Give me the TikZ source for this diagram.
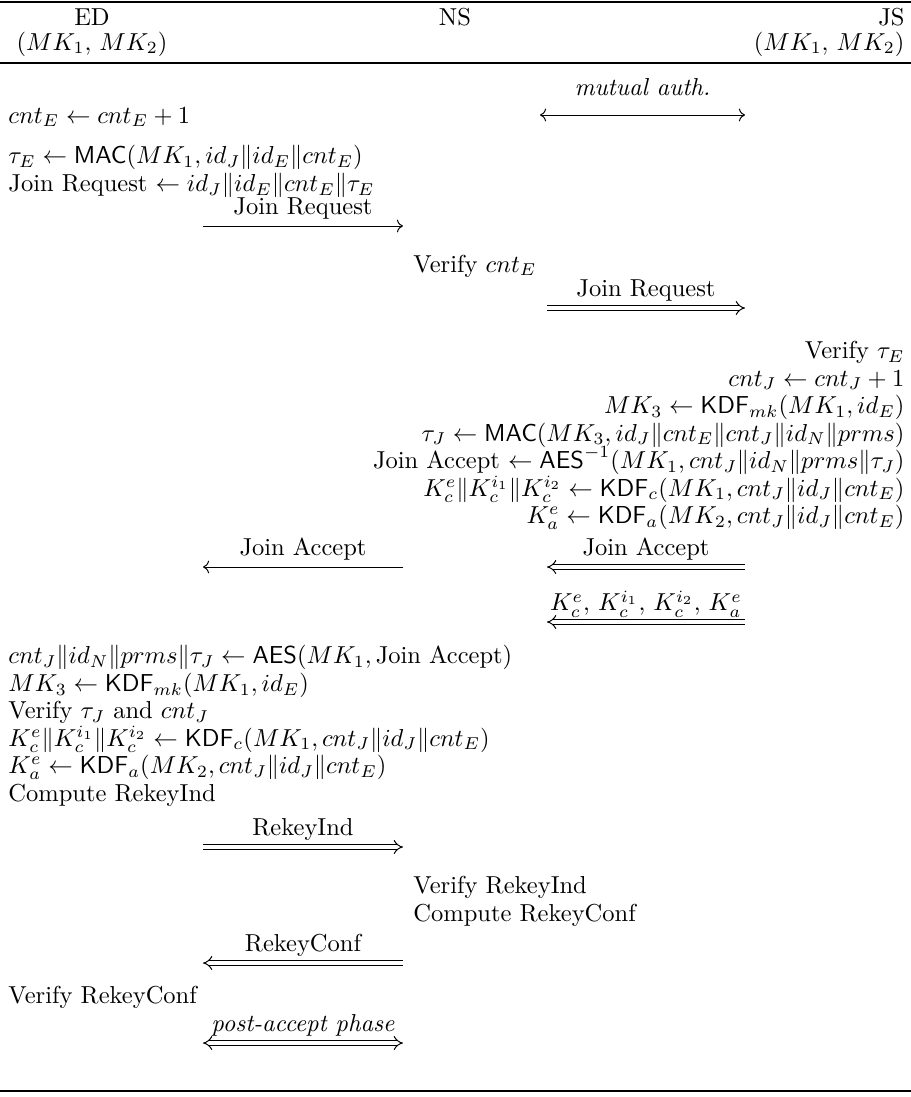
\documentclass[tikz,border=0pt]{standalone}
\usepackage{amsmath}
\usetikzlibrary{positioning}
\usetikzlibrary{arrows.meta}
\newcommand\protofont{\fontsize{10pt}{11.2pt}\selectfont\lineskiplimit=-10pt\lineskip=0pt\relax}

\begin{document}
\begin{tikzpicture}[x=0.408pt,y=-0.408pt,
  every node/.style={inner sep=0pt,font=\protofont},
  msg/.style={-{Computer Modern Rightarrow}},
  msgboth/.style={{Computer Modern Rightarrow}-{Computer Modern Rightarrow}},
  dmsg/.style={double,double distance=1.6pt,-{Implies}},
  dmsgboth/.style={double,double distance=1.6pt,{Implies}-{Implies}},
  lbl/.style={anchor=base,yshift=4.5pt}]
\useasboundingbox (0,0) rectangle (911,1097);
% header
\draw[line width=0.7pt] (0,2) -- (911,2);
\node (ed) [anchor=base] at (92,25) {ED};
\node (ns) [anchor=base] at (455,25) {NS};
\node (js) [anchor=base east] at (905,25) {JS};
\node (edkeys) [anchor=base] at (92,50) {$(MK_1,\, MK_2)$};
\node (jskeys) [anchor=base east] at (905,50) {$(MK_1,\, MK_2)$};
\draw[line width=0.7pt] (0,63) -- (911,63);
% join request
\node (edcnt) [anchor=base west] at (8,123) {$cnt_E \leftarrow cnt_E + 1$};
\coordinate (maa) at (540,115);
\coordinate (mab) at (745,115);
\draw[msgboth] (maa) -- node[lbl,yshift=3.5pt] (ma) {\textit{mutual auth.}} (mab);
\node (edreq) [anchor=north west,align=left] at (8,145) {$\tau_E \leftarrow \mathsf{MAC}(MK_1, id_J \| id_E \| cnt_E)$\\
  Join Request $\leftarrow id_J \| id_E \| cnt_E \| \tau_E$};
\coordinate (jr1a) at (203,226);
\coordinate (jr1b) at (403,226);
\draw[msg] (jr1a) -- node[lbl] (jr1) {Join Request} (jr1b);
\node (nsver) [anchor=base west] at (413,272) {Verify $cnt_E$};
\coordinate (jr2a) at (547,308);
\coordinate (jr2b) at (745,308);
\draw[dmsg] (jr2a) -- node[lbl] (jr2) {Join Request} (jr2b);
% join server
\node (jsblock) [anchor=north east,align=right] at (905,341) {Verify $\tau_E$\\
  $cnt_J \leftarrow cnt_J + 1$\\
  $MK_3 \leftarrow \mathsf{KDF}_{mk}(MK_1, id_E)$\\
  $\tau_J \leftarrow \mathsf{MAC}(MK_3, id_J \| cnt_E \| cnt_J \| id_N \| prms)$\\
  Join Accept $\leftarrow \mathsf{AES}^{-1}(MK_1, cnt_J \| id_N \| prms \| \tau_J)$\\
  $K_c^e \| K_c^{i_1} \| K_c^{i_2} \leftarrow \mathsf{KDF}_c(MK_1, cnt_J \| id_J \| cnt_E)$\\
  $K_a^e \leftarrow \mathsf{KDF}_a(MK_2, cnt_J \| id_J \| cnt_E)$};
% join accept
\coordinate (ja1a) at (403,567);
\coordinate (ja1b) at (203,567);
\draw[msg] (ja1a) -- node[lbl] (ja1) {Join Accept} (ja1b);
\coordinate (ja2a) at (745,567);
\coordinate (ja2b) at (547,567);
\draw[dmsg] (ja2a) -- node[lbl] (ja2) {Join Accept} (ja2b);
\coordinate (ska) at (745,622);
\coordinate (skb) at (547,622);
\draw[dmsg] (ska) -- node[lbl] (sk) {$K_c^e,\, K_c^{i_1},\, K_c^{i_2},\, K_a^e$} (skb);
\node (edblock) [anchor=north west,align=left] at (8,645) {$cnt_J \| id_N \| prms \| \tau_J \leftarrow \mathsf{AES}(MK_1, \text{Join Accept})$\\
  $MK_3 \leftarrow \mathsf{KDF}_{mk}(MK_1, id_E)$\\
  Verify $\tau_J$ and $cnt_J$\\
  $K_c^e \| K_c^{i_1} \| K_c^{i_2} \leftarrow \mathsf{KDF}_c(MK_1, cnt_J \| id_J \| cnt_E)$\\
  $K_a^e \leftarrow \mathsf{KDF}_a(MK_2, cnt_J \| id_J \| cnt_E)$\\
  Compute RekeyInd};
% rekey
\coordinate (ria) at (203,847);
\coordinate (rib) at (403,847);
\draw[dmsg] (ria) -- node[lbl] (ri) {RekeyInd} (rib);
\node (nsrekey) [anchor=north west,align=left] at (413,876) {Verify RekeyInd\\ Compute RekeyConf};
\coordinate (rca) at (403,963);
\coordinate (rcb) at (203,963);
\draw[dmsg] (rca) -- node[lbl] (rc) {RekeyConf} (rcb);
\node (edrc) [anchor=base west] at (8,1003) {Verify RekeyConf};
\coordinate (paa) at (203,1043);
\coordinate (pab) at (403,1043);
\draw[dmsgboth] (paa) -- node[lbl] (pa) {\textit{post-accept phase}} (pab);
\draw[line width=0.7pt] (0,1091) -- (911,1091);
\end{tikzpicture}
\end{document}
